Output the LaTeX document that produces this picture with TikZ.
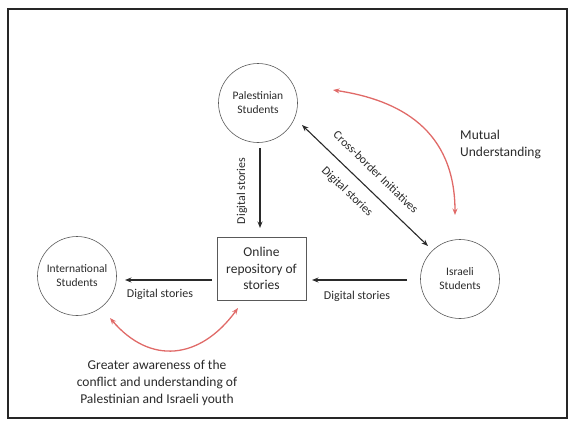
\documentclass[tikz,border=0pt]{standalone}
\usepackage{fontspec}
\setmainfont{Carlito}
\usetikzlibrary{arrows.meta}
\definecolor{txt}{HTML}{2A2A2A}
\definecolor{redline}{HTML}{E06A68}
\begin{document}
\begin{tikzpicture}[x=1pt,y=-1pt,
  circ/.style={circle,draw=black!65,line width=0.6pt,minimum size=79pt,inner sep=0pt,align=center,text=txt,font=\fontsize{11.5}{14}\selectfont},
  repobox/.style={rectangle,draw=black!65,line width=0.6pt,minimum width=89pt,minimum height=63pt,inner sep=0pt,align=center,text=txt,font=\fontsize{13.5}{16.5}\selectfont},
  lbl/.style={text=txt,font=\fontsize{12}{14}\selectfont,inner sep=0pt},
  bigtxt/.style={text=txt,font=\fontsize{13.5}{17}\selectfont,inner sep=0pt,align=center},
  blk/.style={draw=txt,line width=1.1pt,-{Stealth[length=6.5pt,width=5pt]}},
  blkboth/.style={draw=txt,line width=1.1pt,{Stealth[length=6.5pt,width=5pt]}-{Stealth[length=6.5pt,width=5pt]}},
  redarr/.style={draw=redline,line width=1.3pt,{Stealth[length=6.5pt,width=5pt]}-{Stealth[length=6.5pt,width=5pt]}}
]
\useasboundingbox (0,0) rectangle (569,420);
\draw[line width=1.6pt,draw=black!85] (8,9) rectangle (567,418);

\node[circ] (pal) at (258,103) {Palestinian\\Students};
\node[circ] (isr) at (460,279) {Israeli\\Students};
\node[circ] (intl) at (77,276) {International\\Students};
\node[repobox] (repo) at (261.5,268.5) {Online\\repository of\\stories};

% vertical arrow
\coordinate (v1) at (260,148);
\coordinate (v2) at (260,228);
\draw[blk] (v1) -- (v2);
\node[lbl,rotate=90] (lv) at (242,191) {Digital stories};

% diagonal double arrow
\coordinate (d1) at (302,125);
\coordinate (d2) at (428,246);
\draw[blkboth] (d1) -- (d2);
\node[lbl,rotate=-44] (lcb) at (376,172) {Cross-border Initiatives};
\node[lbl,rotate=-44] (ldd) at (347,192) {Digital stories};

% horizontal arrows
\coordinate (h1) at (407,280);
\coordinate (h2) at (312,280);
\draw[blk] (h1) -- (h2);
\node[lbl] (lh1) at (357,296) {Digital stories};
\coordinate (h3) at (212,280);
\coordinate (h4) at (125,280);
\draw[blk] (h3) -- (h4);
\node[lbl] (lh2) at (160,294) {Digital stories};

% red curves
\coordinate (r1) at (333,90);
\coordinate (r2) at (455,215);
\draw[redarr] (r1) .. controls (400,100) and (455,130) .. (r2);
\node[bigtxt,anchor=west,align=left] (mu) at (460,144) {Mutual\\Understanding};

\coordinate (r3) at (110,318);
\coordinate (r4) at (238,308);
\draw[redarr] (r3) .. controls (150,365) and (200,360) .. (r4);
\node[bigtxt] (ga) at (157,383) {Greater awareness of the\\conflict and understanding of\\Palestinian and Israeli youth};
\end{tikzpicture}
\end{document}
